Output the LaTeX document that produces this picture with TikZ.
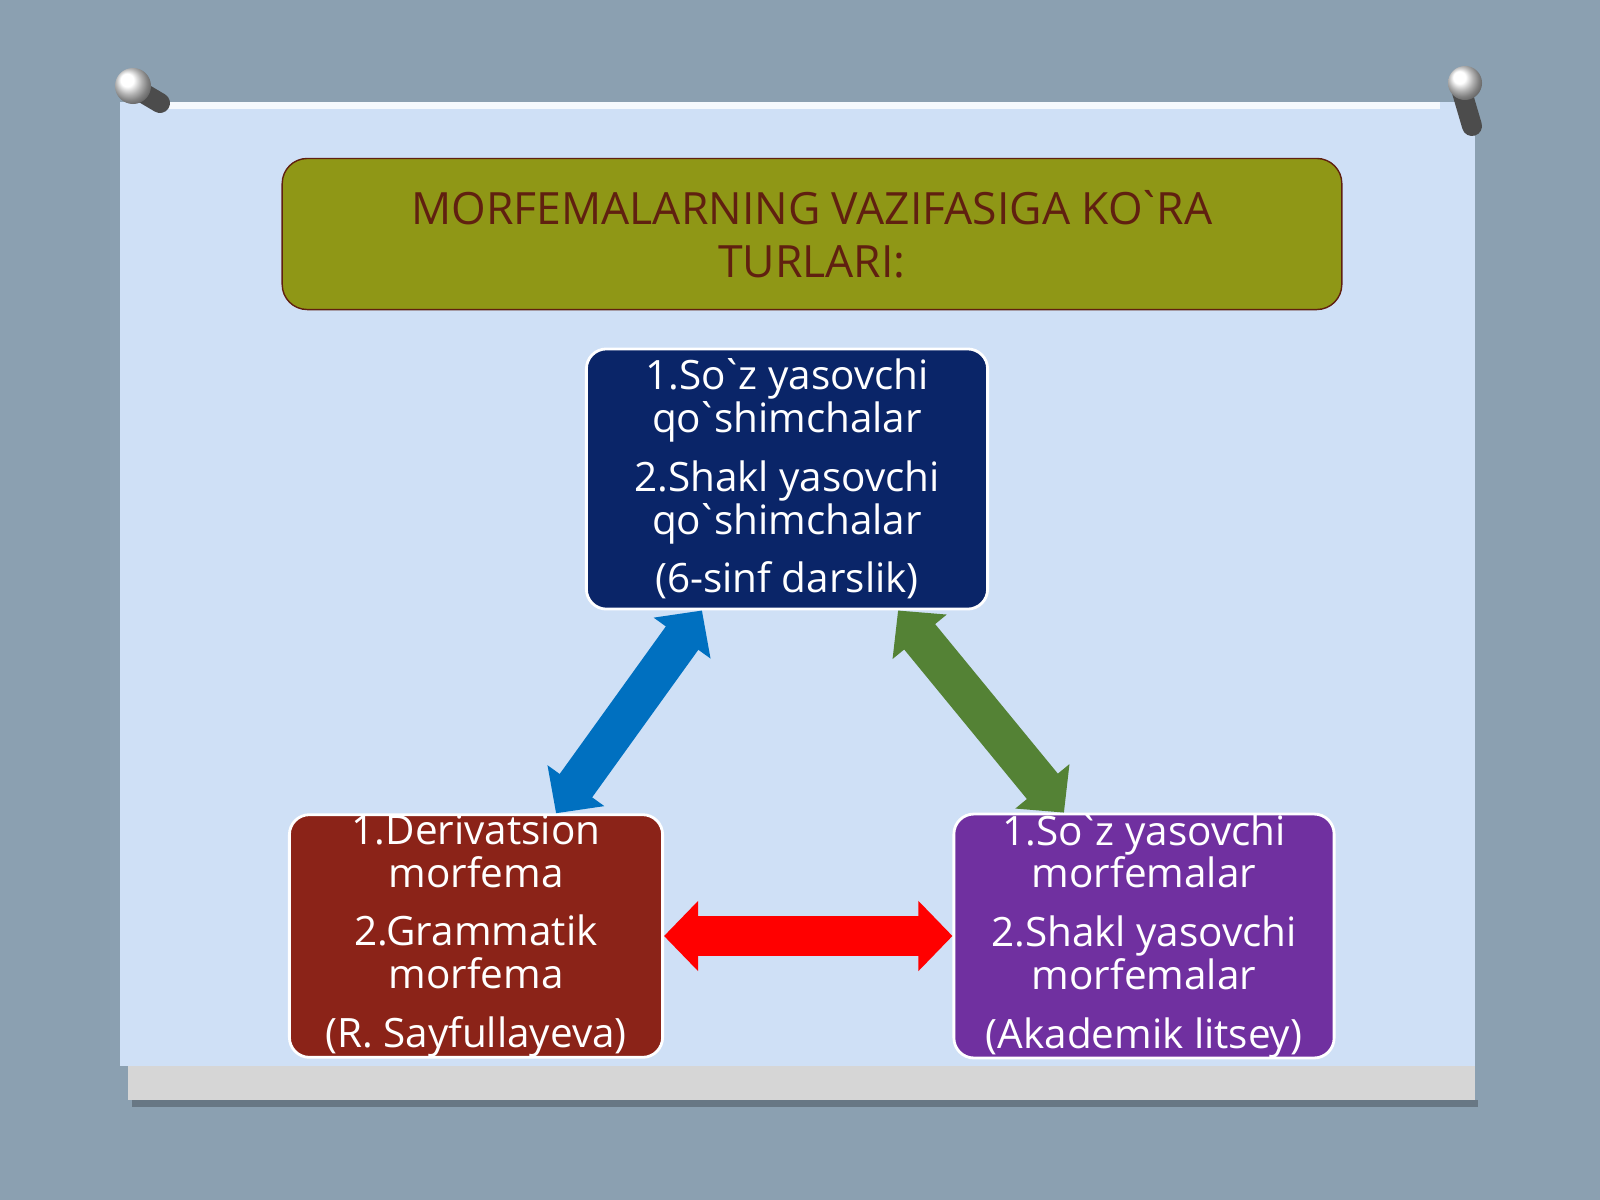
\documentclass[tikz,border=0pt]{standalone}
\usepackage{fontspec}
\setmainfont{Open Sans}[Ligatures=TeXOff]
\usetikzlibrary{positioning,arrows.meta,calc,shadows}
\definecolor{mfWall}{RGB}{139,160,177}
\definecolor{mfPaper}{RGB}{207,224,246}
\definecolor{mfStrip}{RGB}{214,214,214}
\definecolor{mfOlive}{RGB}{143,151,22}
\definecolor{mfBrown}{RGB}{96,32,16}
\definecolor{mfNavy}{RGB}{10,37,104}
\definecolor{mfRed}{RGB}{139,35,24}
\definecolor{mfPurple}{RGB}{112,48,160}
\definecolor{mfBlue}{RGB}{0,112,192}
\definecolor{mfGreen}{RGB}{84,130,53}
\definecolor{mfArrow}{RGB}{255,0,0}
\newcommand{\tick}{\kern-0.14em\char96\kern-0.12em}
\newcommand{\tightlines}{\setlength{\lineskiplimit}{-10pt}}
\tikzset{
    base/.style={align=center, inner sep=0pt},
    heading/.style={base, rectangle, rounded corners=2.5mm, draw=mfBrown, thin,
                    fill=mfOlive, text=mfBrown, minimum width=10.59cm, minimum height=1.51cm,
                    font={\fontsize{12.65}{15}\selectfont\tightlines}},
    card/.style={base, rectangle, rounded corners=2mm, draw=white, thick, text=white,
                 font={\fontsize{11.5}{12.2}\selectfont\tightlines}},
    twoway/.style={line width=4mm,
                   {Triangle[length=3.4mm,width=6.8mm]}-{Triangle[length=3.4mm,width=6.8mm]}}
}

\begin{document}
\begin{tikzpicture}[x=0.01cm, y=-0.01cm]
  \useasboundingbox (0,0) rectangle (1600,1200);
  % Wall and paper
  \fill[mfWall] (0,0) rectangle (1600,1200);
  \fill[black, opacity=0.25] (132,1100) rectangle (1478,1107);
  \fill[mfStrip] (128,1060) rectangle (1475,1100);
  \fill[mfPaper] (120,102) rectangle (1475,1066);
  \fill[white!80!mfPaper] (165,102) rectangle (1440,109);

  % Pins
  \draw[line width=2mm, gray!60!black, line cap=round] (138,90) -- (160,103);
  \shade[ball color=white] (133,86) circle (0.18cm);
  \draw[line width=2mm, gray!60!black, line cap=round] (1462,92) -- (1472,126);
  \shade[ball color=white] (1465,83) circle (0.17cm);

  % Title
  \node[heading] (title) at (812,234) {MORFEMALARNING VAZIFASIGA KO\tick RA\\TURLARI:};

  % Three sources
  \node[card, fill=mfNavy, minimum width=4.01cm, minimum height=2.6cm] (top) at (787,479)
    {1.So\tick z yasovchi\\qo\tick shimchalar\\[4.5pt]2.Shakl yasovchi\\qo\tick shimchalar\\[4.5pt](6-sinf darslik)};
  \node[card, fill=mfRed, minimum width=3.73cm, minimum height=2.41cm] (left) at (476,936)
    {1.Derivatsion\\morfema\\[4.5pt]2.Grammatik\\morfema\\[4.5pt](R. Sayfullayeva)};
  \node[card, fill=mfPurple, minimum width=3.8cm, minimum height=2.39cm] (right) at (1144,936)
    {1.So\tick z yasovchi\\morfemalar\\[4.5pt]2.Shakl yasovchi\\morfemalar\\[4.5pt](Akademik litsey)};

  % Links
  \draw[twoway, mfBlue] ([xshift=-8.5mm]top.south) -- ([xshift=8mm]left.north);
  \draw[twoway, mfGreen] ([xshift=11.1mm]top.south) -- ([xshift=-8mm]right.north);
  \draw[twoway, mfArrow] (left.east) -- (right.west);
\end{tikzpicture}
\end{document}
